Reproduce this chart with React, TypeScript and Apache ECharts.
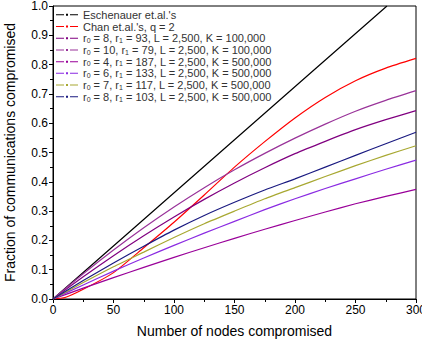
import React, { useEffect, useRef } from "react";
import * as echarts from "echarts";

const xs = [0, 25, 50, 75, 100, 125, 150, 175, 200, 225, 250, 275, 300];
const eschenauerX = [0, 138, 276];
const eschenauer = [0, 0.5, 1.0];
const chanX = [0, 10, 25, 50, 75, 100, 125, 150, 175, 200, 225, 250, 275, 300];
const chan = [0, 0.005, 0.033, 0.09, 0.175, 0.262, 0.355, 0.45, 0.537, 0.618, 0.688, 0.745, 0.788, 0.821];
const s1 = [0, 0.076, 0.148, 0.216, 0.28, 0.34, 0.396, 0.448, 0.496, 0.538, 0.578, 0.612, 0.643];
const s2 = [0, 0.086, 0.167, 0.243, 0.314, 0.38, 0.441, 0.497, 0.549, 0.597, 0.641, 0.678, 0.711];
const s3 = [0, 0.037, 0.073, 0.108, 0.142, 0.175, 0.207, 0.238, 0.268, 0.297, 0.325, 0.35, 0.374];
const s4 = [0, 0.048, 0.095, 0.14, 0.183, 0.225, 0.265, 0.305, 0.342, 0.377, 0.41, 0.443, 0.474];
const s5 = [0, 0.056, 0.11, 0.16, 0.21, 0.257, 0.3, 0.342, 0.38, 0.418, 0.455, 0.49, 0.523];
const s6 = [0, 0.063, 0.123, 0.18, 0.235, 0.285, 0.33, 0.372, 0.41, 0.45, 0.49, 0.53, 0.569];

const names = [
  "Eschenauer et.al.'s",
  "Chan et.al.'s, q = 2",
  "r0 = 8, r1 = 93, L = 2,500, K = 100,000",
  "r0 = 10, r1 = 79, L = 2,500, K = 100,000",
  "r0 = 4, r1 = 187, L = 2,500, K = 500,000",
  "r0 = 6, r1 = 133, L = 2,500, K = 500,000",
  "r0 = 7, r1 = 117, L = 2,500, K = 500,000",
  "r0 = 8, r1 = 103, L = 2,500, K = 500,000",
];
const colors = ["#000000", "#ff0000", "#800080", "#993399", "#990099", "#8a2be2", "#a8a832", "#1a1a80"];

const FONT = "Liberation Sans, Arial, sans-serif";
const ICON = "path://M0,3.5h8v1H0z M10,3h2v2h-2z M14,3.5h8v1h-8z M0,0h0.01v0.01H0z M21.99,7.99h0.01v0.01h-0.01z";

export default function App() {
  const ref = useRef<HTMLDivElement>(null);
  useEffect(() => {
    if (!ref.current) return;
    const chart = echarts.init(ref.current, undefined, { renderer: "svg" });
    const zip = (x: number[], y: number[]) => x.map((v, i) => [v, y[i]]);
    const datas = [
      zip(eschenauerX, eschenauer),
      zip(chanX, chan),
      zip(xs, s1),
      zip(xs, s2),
      zip(xs, s3),
      zip(xs, s4),
      zip(xs, s5),
      zip(xs, s6),
    ];
    chart.setOption({
      animation: false,
      grid: {
        left: 53,
        right: 6,
        top: 6,
        bottom: 49,
        outerBoundsMode: "none",
        containLabel: false,
        show: true,
        borderColor: "#000",
        borderWidth: 1,
        backgroundColor: "#fff",
      },
      legend: {
        left: 56,
        top: 9,
        orient: "vertical",
        padding: 0,
        itemWidth: 22,
        itemHeight: 8,
        itemGap: 0,
        icon: ICON,
        textStyle: {
          fontFamily: FONT,
          fontSize: 11,
          lineHeight: 11.7,
          color: "#333",
          rich: {
            sub: { fontSize: 7, lineHeight: 11.7, verticalAlign: "bottom", fontFamily: FONT, color: "#333" },
          },
        },
        formatter: (n: string) => n.replace(/r([01])/g, "r{sub|$1}"),
        data: names.map((n, i) => ({ name: n, itemStyle: { color: colors[i] } })),
      },
      xAxis: {
        type: "value",
        min: 0,
        max: 300,
        interval: 50,
        name: "Number of nodes compromised",
        nameLocation: "middle",
        nameGap: 25,
        nameTextStyle: { fontFamily: FONT, fontSize: 14, color: "#000" },
        axisLine: { show: true, lineStyle: { color: "#000", width: 1 } },
        axisTick: { show: true, length: 4, lineStyle: { color: "#000" } },
        minorTick: { show: true, splitNumber: 2, length: 3, lineStyle: { color: "#000" } },
        axisLabel: { fontFamily: FONT, fontSize: 12, color: "#000", margin: 5 },
        splitLine: { show: false },
      },
      yAxis: {
        type: "value",
        min: 0,
        max: 1,
        interval: 0.1,
        name: "Fraction of communications compromised",
        nameLocation: "middle",
        nameGap: 36,
        nameTextStyle: { fontFamily: FONT, fontSize: 14, color: "#000" },
        axisLine: { show: true, lineStyle: { color: "#000", width: 1 } },
        axisTick: { show: true, length: 4, lineStyle: { color: "#000" } },
        minorTick: { show: true, splitNumber: 2, length: 3, lineStyle: { color: "#000" } },
        axisLabel: {
          fontFamily: FONT,
          fontSize: 12,
          color: "#000",
          margin: 5,
          formatter: (v: number) => v.toFixed(1),
        },
        splitLine: { show: false },
      },
      series: names.map((n, i) => ({
        name: n,
        type: "line",
        data: datas[i],
        smooth: 0.2,
        symbol: "none",
        clip: true,
        color: colors[i],
        lineStyle: { color: colors[i], width: 1.2 },
        itemStyle: { color: colors[i] },
      })),
    });
    return () => chart.dispose();
  }, []);
  return (
    <div
      ref={ref}
      style={{ position: "absolute", left: 0, top: 0, width: 422, height: 348, background: "#fff" }}
    />
  );
}
